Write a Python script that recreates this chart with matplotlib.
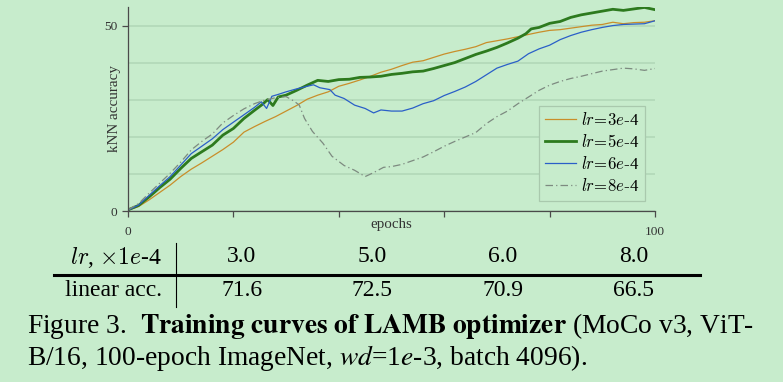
import numpy as np
import matplotlib
matplotlib.use("Agg")
import matplotlib.pyplot as plt
from matplotlib.font_manager import FontProperties

# kNN accuracy curves (epoch, accuracy)
ep_3e4 = list(range(0, 101, 2))
acc_3e4 = [0.2, 1.2, 3.0, 5.0, 7.0, 9.3, 11.3, 13.0, 14.8, 16.6, 18.6, 21.3, 22.8, 24.2, 25.5, 27.0,
           28.5, 30.2, 31.3, 32.2, 33.7, 34.5, 35.4, 36.4, 37.5, 38.3, 39.3, 40.2, 40.6, 41.5, 42.4,
           43.1, 43.7, 44.4, 45.5, 46.0, 46.5, 47.1, 47.7, 48.3, 48.8, 49.0, 49.4, 49.8, 50.2, 50.4,
           51.0, 50.6, 50.9, 51.0, 51.4]

ep_5e4 = [0, 2, 4, 6, 8, 10, 12, 14, 16, 18, 20, 22, 24, 25.5, 26.5, 27.5, 28.5, 30, 32, 34, 36, 38,
          40, 42, 44, 46, 48, 50, 52, 54, 56, 58, 60, 62, 64, 66, 68, 70, 72, 74, 75.5, 76.5, 78, 80,
          82, 84, 86, 88, 90, 92, 94, 96, 98, 100]
acc_5e4 = [0.3, 1.5, 3.8, 6.3, 8.6, 11.5, 14.2, 16.0, 17.8, 20.5, 22.3, 25.0, 27.2, 28.8, 30.1, 28.5,
           30.8, 31.3, 32.6, 34.0, 35.3, 35.0, 35.5, 35.6, 36.1, 36.2, 36.4, 36.9, 37.2, 37.6, 37.8,
           38.5, 39.3, 40.1, 41.2, 42.3, 43.2, 44.2, 45.4, 46.7, 47.9, 49.2, 49.6, 50.7, 51.2, 52.3,
           53.0, 53.5, 54.0, 54.5, 54.2, 54.6, 55.0, 54.4]

ep_6e4 = [0, 2, 4, 6, 8, 10, 12, 14, 16, 18, 20, 22, 24, 25.3, 26.3, 27.3, 28.5, 30, 32, 34, 35.2,
          36.4, 38.3, 39.3, 41, 43, 45, 46.6, 48, 50, 52, 54, 56, 58, 60, 62, 64, 66, 68, 70, 72, 74,
          76, 78, 80, 82, 84, 86, 88, 90, 92, 94, 96, 98, 100]
acc_6e4 = [0.2, 1.6, 4.2, 6.8, 9.3, 12.4, 15.5, 17.5, 19.5, 22.0, 24.0, 26.0, 28.0, 29.5, 27.7, 31.0,
           31.5, 32.2, 33.0, 33.7, 34.1, 33.3, 32.8, 31.3, 30.4, 28.6, 27.7, 26.5, 27.3, 27.0, 27.0,
           27.8, 29.0, 29.8, 31.2, 32.3, 33.5, 35.0, 36.8, 38.6, 39.6, 40.5, 42.5, 43.8, 44.8, 46.3,
           47.4, 48.3, 49.0, 49.6, 50.1, 50.4, 50.5, 50.6, 51.4]

ep_8e4 = [0, 2, 4, 6, 8, 10, 12, 14, 16, 18, 20, 22, 24, 26, 28, 30, 31.5, 32.5, 33.5, 35, 37, 38.7,
          41, 43, 45, 46.5, 48.5, 50, 52, 54, 56, 58, 60, 62, 64, 66, 68, 70, 72, 74, 76, 78, 80, 82,
          84, 86, 88, 90, 92, 94, 96, 98, 100]
acc_8e4 = [0.3, 2.0, 4.8, 7.5, 10.2, 13.2, 16.5, 18.8, 20.8, 23.8, 25.8, 27.6, 29.0, 30.0, 30.6, 30.9,
           29.7, 28.6, 25.0, 21.5, 18.3, 14.8, 12.3, 11.0, 9.3, 10.3, 11.8, 12.0, 12.6, 13.6, 14.6,
           16.0, 17.5, 18.8, 20.0, 21.2, 23.6, 25.5, 27.0, 29.0, 30.8, 32.6, 34.0, 35.0, 35.8, 36.4,
           37.1, 37.8, 38.2, 38.6, 38.4, 38.0, 38.5]

# table under the plot
lr_vals = ["3.0", "5.0", "6.0", "8.0"]
lin_acc = ["71.6", "72.5", "70.9", "66.5"]

BG = "#c7eccc"
W, H = 783, 382
plt.rcParams["font.family"] = ["Liberation Serif", "DejaVu Serif"]

fig = plt.figure(figsize=(W / 100, H / 100), dpi=100, facecolor=BG)
ax = fig.add_axes([128 / W, 1 - 211 / H, 527 / W, 204.3 / H], facecolor=BG)

ax.plot(ep_3e4, acc_3e4, color="#c98e2a", lw=0.9, label=r"$lr\!=\!3e$-4")
ax.plot(ep_5e4, acc_5e4, color="#2d7a1e", lw=2.0, label=r"$lr\!=\!5e$-4")
ax.plot(ep_6e4, acc_6e4, color="#2a5fc8", lw=0.9, label=r"$lr\!=\!6e$-4")
ax.plot(ep_8e4, acc_8e4, color="#7d8a80", lw=0.9, dashes=[6, 2.5, 1, 2.5], label=r"$lr\!=\!8e$-4")

ax.set_xlim(0, 100); ax.set_ylim(0, 55.2)
for s in ["top", "right"]:
    ax.spines[s].set_visible(False)
for s in ["left", "bottom"]:
    ax.spines[s].set_color("#4a4a4a"); ax.spines[s].set_linewidth(0.9)
ax.set_xticks([0, 20, 40, 60, 80, 100])
ax.set_xticklabels(["0", "", "", "", "", "100"])
ax.set_yticks([0, 50]); ax.set_yticks([10, 20, 30, 40], minor=True)
ax.tick_params(axis="both", which="major", direction="out", length=4.5, width=0.9,
               color="#4a4a4a", labelsize=9.6, labelcolor="#333333", pad=3)
ax.tick_params(axis="y", which="minor", length=0)
ax.tick_params(axis="x", pad=6)
ax.grid(axis="y", which="both", color="#b2d8b8", lw=1.2)
ax.set_axisbelow(True)

ax.text(0.5, -0.068, "epochs", transform=ax.transAxes, ha="center", va="center",
        fontsize=10.8, color="#333333")
ax.text(-0.025, 0.5, "kNN accuracy", transform=ax.transAxes, ha="center", va="center",
        rotation=90, fontsize=10.8, color="#333333")

leg = ax.legend(loc="lower right", bbox_to_anchor=(0.981, 0.049), borderaxespad=0,
                prop=FontProperties(size=12, math_fontfamily="cm"), handlelength=1.85,
                handletextpad=0.3, labelspacing=0.3, borderpad=0.35, fancybox=False,
                framealpha=1, facecolor=BG, edgecolor="#a9c9ad")
leg.get_frame().set_linewidth(0.9)

# table
fx = lambda x: x / W
fy = lambda y: 1 - y / H
fig.text(fx(162), fy(257), r"$lr$, $\times 1e$-4", ha="right", va="center", fontsize=17,
         math_fontfamily="cm")
fig.text(fx(162), fy(291), "linear acc.", ha="right", va="center", fontsize=17)
for x, a, b in zip([242, 372, 503, 634], lr_vals, lin_acc):
    fig.text(fx(x), fy(257), a, ha="center", va="center", fontsize=17)
    fig.text(fx(x), fy(291), b, ha="center", va="center", fontsize=17)
fig.add_artist(plt.Line2D([fx(54), fx(700)], [fy(275), fy(275)], color="black", lw=2.2))
fig.add_artist(plt.Line2D([fx(176), fx(176)], [fy(243), fy(307)], color="black", lw=0.8))

# caption
fig.text(fx(27), fy(326), r"Figure 3.  $\mathbf{Training\ curves\ of\ LAMB\ optimizer}$ (MoCo v3, ViT-",
         ha="left", va="center", fontsize=19.8, math_fontfamily="stix")
fig.text(fx(27), fy(358), r"B/16, 100-epoch ImageNet, $wd$=1$e$-3, batch 4096).",
         ha="left", va="center", fontsize=19.8, math_fontfamily="stix")

fig.savefig("out.png", dpi=100, facecolor=BG)
